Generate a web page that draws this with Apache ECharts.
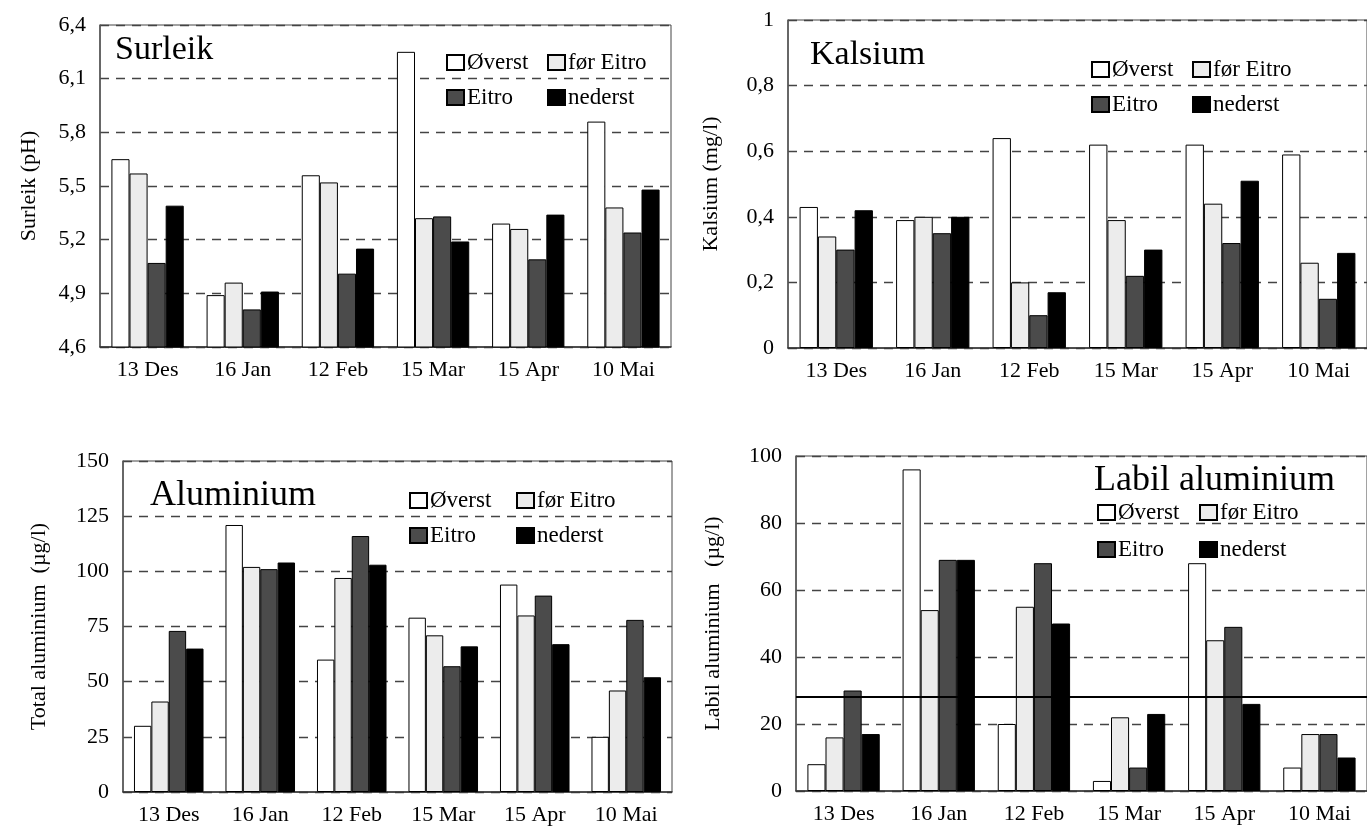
<!DOCTYPE html>
<html>
<head>
<meta charset="utf-8">
<title>Surleik, kalsium og aluminium</title>
<script src="https://cdn.jsdelivr.net/npm/echarts@6/dist/echarts.min.js"></script>
<style>
  html, body { margin: 0; padding: 0; background: #fff; }
  #chart { width: 1367px; height: 828px; }
</style>
</head>
<body>
<div id="chart"></div>
<script>
// sample dates and stations
const categories = ['13 Des', '16 Jan', '12 Feb', '15 Mar', '15 Apr', '10 Mai'];
const seriesNames = ['Øverst', 'før Eitro', 'Eitro', 'nederst'];
const barColors = ['#ffffff', '#ececec', '#4b4b4b', '#000000'];

// one row per station, in seriesNames order
const surleik = [
  [5.65, 4.89, 5.56, 6.25, 5.29, 5.86],
  [5.57, 4.96, 5.52, 5.32, 5.26, 5.38],
  [5.07, 4.81, 5.01, 5.33, 5.09, 5.24],
  [5.39, 4.91, 5.15, 5.19, 5.34, 5.48]
];
const kalsium = [
  [0.43, 0.39, 0.64, 0.62, 0.62, 0.59],
  [0.34, 0.40, 0.20, 0.39, 0.44, 0.26],
  [0.30, 0.35, 0.10, 0.22, 0.32, 0.15],
  [0.42, 0.40, 0.17, 0.30, 0.51, 0.29]
];
const totalAl = [
  [30, 121, 60, 79, 94, 25],
  [41, 102, 97, 71, 80, 46],
  [73, 101, 116, 57, 89, 78],
  [65, 104, 103, 66, 67, 52]
];
const labilAl = [
  [8, 96, 20, 3, 68, 7],
  [16, 54, 55, 22, 45, 17],
  [30, 69, 68, 7, 49, 17],
  [17, 69, 50, 23, 26, 10]
];
const labilLimit = [28];

// y axis ranges: min, max, step
const surleikTicks = [4.6, 6.4, 0.3];
const kalsiumTicks = [0, 1, 0.2];
const totalAlTicks = [0, 150, 25];
const labilAlTicks = [0, 100, 20];

const FONT = '"Liberation Serif", "Times New Roman", serif';

// legend boxes: [left col, right col], [row 1 top, row 2 top]
const panels = [
  { title: 'Surleik', yName: 'Surleik (pH)', data: surleik, ticks: surleikTicks,
    grid: { left: 100, top: 25, width: 571, height: 322 }, nameGap: 60, nameSize: 22,
    titlePos: { left: 115, top: 33, size: 34 },
    legCols: [446, 547], legRows: [51, 86] },
  { title: 'Kalsium', yName: 'Kalsium (mg/l)', data: kalsium, ticks: kalsiumTicks,
    grid: { left: 788, top: 20, width: 581, height: 328 }, nameGap: 66, nameSize: 22,
    titlePos: { left: 810, top: 38, size: 34 },
    legCols: [1091, 1192], legRows: [58, 93] },
  { title: 'Aluminium', yName: 'Total aluminium  (µg/l)', data: totalAl, ticks: totalAlTicks,
    grid: { left: 123, top: 461, width: 549, height: 331 }, nameGap: 73, nameSize: 22,
    titlePos: { left: 150, top: 478, size: 36 },
    legCols: [409, 516], legRows: [489, 524] },
  { title: 'Labil aluminium', yName: 'Labil aluminium   (µg/l)', data: labilAl, ticks: labilAlTicks,
    grid: { left: 796, top: 456, width: 576, height: 335 }, nameGap: 72, nameSize: 22,
    titlePos: { left: 1094, top: 463, size: 36 },
    legCols: [1097, 1199], legRows: [501, 538] }
];

function fmt(v) {
  return String(+v.toFixed(2)).replace('.', ',');
}

const option = {
  animation: false,
  textStyle: { fontFamily: FONT },
  title: [],
  legend: [],
  grid: [],
  xAxis: [],
  yAxis: [],
  series: []
};

panels.forEach((p, i) => {
  option.grid.push(Object.assign({
    show: true, borderColor: '#444', borderWidth: 1, backgroundColor: 'transparent'
  }, p.grid));

  option.title.push({
    text: p.title, left: p.titlePos.left, top: p.titlePos.top, padding: 0,
    textStyle: { fontFamily: FONT, fontWeight: 'normal', fontSize: p.titlePos.size, color: '#000' }
  });

  // 2x2 legend, one component per entry so the columns line up
  seriesNames.forEach((name, k) => {
    option.legend.push({
      data: [name], left: p.legCols[k % 2], top: p.legRows[Math.floor(k / 2)],
      icon: 'rect', itemWidth: 17, itemHeight: 15, padding: 0, selectedMode: false,
      textStyle: { fontFamily: FONT, fontSize: 23, color: '#000', padding: [0, 0, 0, -2] }
    });
  });

  option.xAxis.push({
    type: 'category', gridIndex: i, data: categories,
    axisTick: { show: false },
    axisLine: { lineStyle: { color: '#333', width: 1.5 } },
    axisLabel: { fontFamily: FONT, fontSize: 22, color: '#000', margin: 12 }
  });

  option.yAxis.push({
    type: 'value', gridIndex: i,
    min: p.ticks[0], max: p.ticks[1], interval: p.ticks[2],
    name: p.yName, nameLocation: 'middle', nameGap: p.nameGap,
    nameTextStyle: { fontFamily: FONT, fontSize: p.nameSize, color: '#000' },
    axisLine: { show: true, lineStyle: { color: '#555', width: 1.5 } },
    axisTick: { show: false },
    axisLabel: { fontFamily: FONT, fontSize: 22, color: '#000', margin: 14, formatter: fmt },
    splitLine: { show: true, lineStyle: { color: '#444', width: 1.3, type: [9, 7] } }
  });

  p.data.forEach((vals, s) => {
    const ser = {
      type: 'bar', name: seriesNames[s], xAxisIndex: i, yAxisIndex: i,
      data: vals, barGap: '0%', barCategoryGap: '24%',
      itemStyle: { color: barColors[s], borderColor: '#000', borderWidth: 1 }
    };
    if (i === 3 && s === 3) {
      ser.markLine = {
        silent: true, symbol: 'none', label: { show: false },
        lineStyle: { color: '#000', width: 2, type: 'solid' },
        data: labilLimit.map(v => ({ yAxis: v }))
      };
    }
    option.series.push(ser);
  });
});

const chart = echarts.init(document.getElementById('chart'), null, { renderer: 'canvas' });
chart.setOption(option);
</script>
</body>
</html>
